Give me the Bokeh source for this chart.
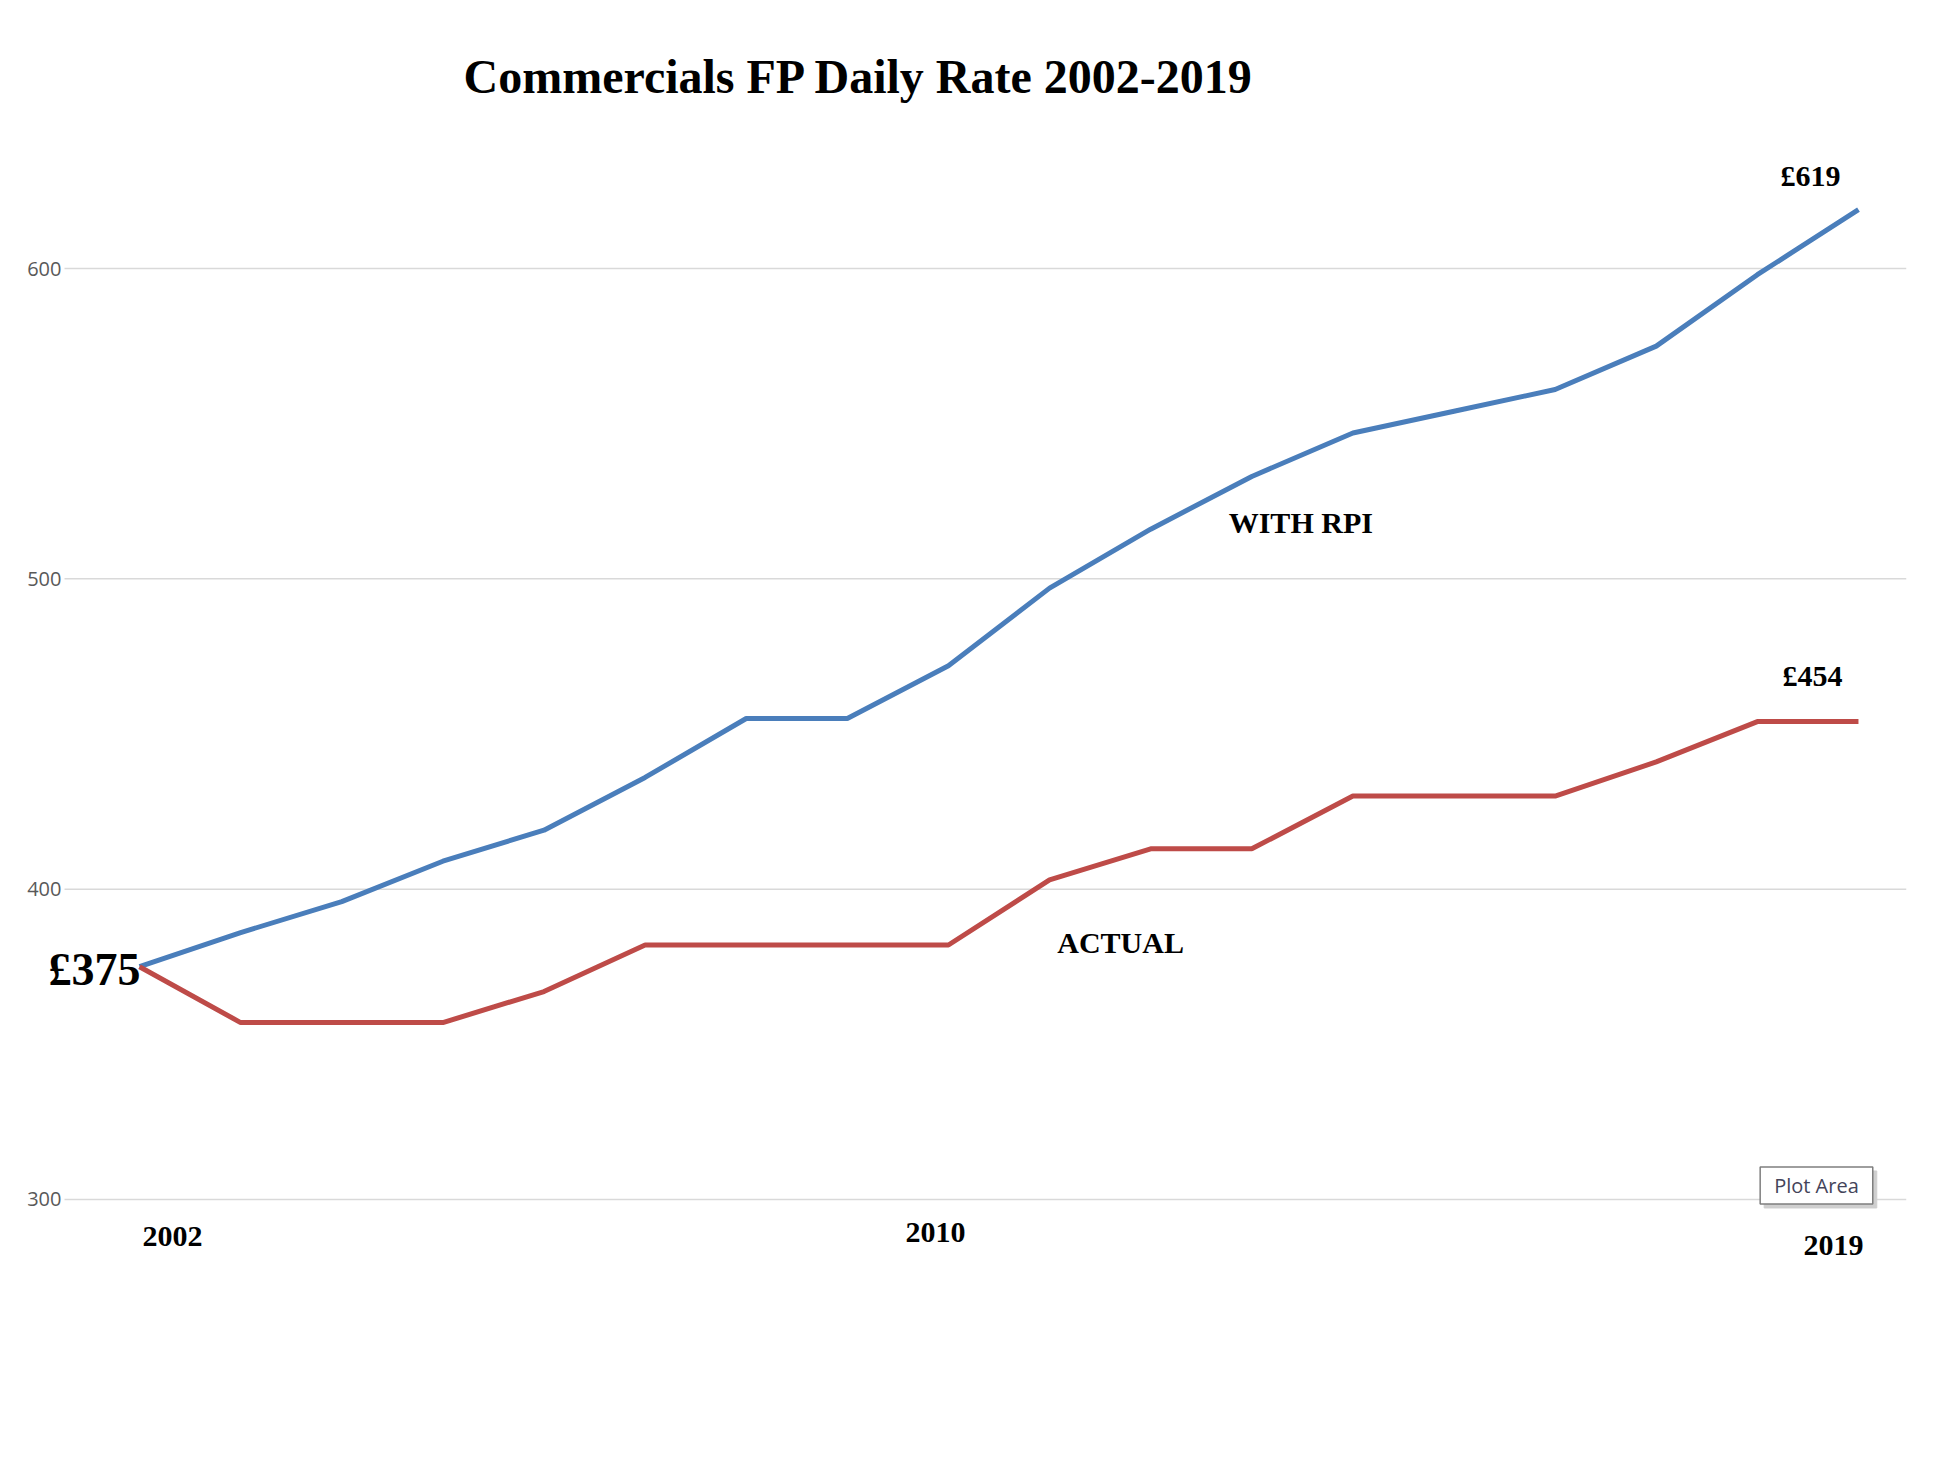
from bokeh.plotting import figure
from bokeh.models import Range1d, Label
from bokeh.embed import file_html
from bokeh.resources import INLINE

# ---- data ----
years = list(range(2002, 2020))
with_rpi = [375, 386, 396, 409, 419, 436, 455, 455, 472, 497, 516, 533, 547, 554, 561, 575, 598, 619]
actual = [375, 357, 357, 357, 367, 382, 382, 382, 382, 403, 413, 413, 430, 430, 430, 441, 454, 454]
y_ticks = [300, 400, 500, 600]
year_labels = ["2002", "2010", "2019"]
series_names = ["WITH RPI", "ACTUAL"]
title_text = "Commercials FP Daily Rate 2002-2019"

BLUE = "#4A7EBB"
RED = "#BE4B48"
SERIF = "Liberation Serif"

X_START, X_END = 2000.625, 2019.475
Y_START, Y_END = 275.5, 641.25
GRID_X0 = 2001.258  # where the value axis / gridlines begin

p = figure(width=1930, height=1446, output_backend="svg", toolbar_location=None,
           x_range=Range1d(X_START, X_END), y_range=Range1d(Y_START, Y_END),
           min_border_left=0, min_border_right=24, min_border_top=140, min_border_bottom=171)

p.title.text = title_text
p.title.align = "left"
p.title.offset = 463
p.title.standoff = 75
p.title.text_font = SERIF
p.title.text_font_style = "bold"
p.title.text_font_size = "48px"
p.title.text_color = "black"

p.outline_line_color = None
p.background_fill_color = "white"
p.border_fill_color = "white"

p.xaxis.visible = False
p.xgrid.visible = False
p.ygrid.visible = False

p.yaxis.ticker = y_ticks
p.yaxis.fixed_location = GRID_X0
p.yaxis.axis_line_color = None
p.yaxis.major_tick_line_color = None
p.yaxis.minor_tick_line_color = None
p.yaxis.major_label_standoff = -3
p.yaxis.major_label_text_font = "Open Sans"
p.yaxis.major_label_text_font_size = "20px"
p.yaxis.major_label_text_color = "#595959"

# horizontal gridlines at the value ticks
p.segment(x0=[GRID_X0] * len(y_ticks), y0=y_ticks, x1=[X_END] * len(y_ticks), y1=y_ticks,
          line_color="#D9D9D9", line_width=1.5)

p.line(years, with_rpi, line_color=BLUE, line_width=5)
p.line(years, actual, line_color=RED, line_width=5)


def lab(x, y, text, size, dx=0, dy=0, align="center", baseline="middle"):
    p.add_layout(Label(x=x, y=y, text=text, x_offset=dx, y_offset=dy,
                       text_font=SERIF, text_font_style="bold", text_font_size=size,
                       text_color="black", text_align=align, text_baseline=baseline))


# value labels
lab(years[0], actual[0], f"£{actual[0]}", "46px", dx=1, dy=-3, align="right")
lab(years[-1], with_rpi[-1], f"£{with_rpi[-1]}", "30px", dx=-48, dy=34)
lab(years[-1], actual[-1], f"£{actual[-1]}", "30px", dx=-46, dy=46)

# series names
lab(years[11], with_rpi[11], series_names[0], "30px", dx=49, dy=-46)
lab(years[9], actual[9], series_names[1], "30px", dx=71, dy=-63)

# year labels
year_offsets = {"2002": (33, -37), "2010": (-13, -33), "2019": (-25, -46)}
for yl in year_labels:
    dx, dy = year_offsets[yl]
    lab(int(yl), y_ticks[0], yl, "30px", dx=dx, dy=dy)

# "Plot Area" tooltip box (with shadow)
box_pad = dict(left=14, right=14, top=5, bottom=5)
p.add_layout(Label(x=years[-1], y=y_ticks[0], text="Plot Area", x_offset=-38, y_offset=10,
                   text_font="Open Sans", text_font_size="20px", text_color="#CFCFCF",
                   text_align="center", text_baseline="middle",
                   background_fill_color="#CFCFCF", border_line_color="#CFCFCF",
                   padding=box_pad))
p.add_layout(Label(x=years[-1], y=y_ticks[0], text="Plot Area", x_offset=-42, y_offset=14,
                   text_font="Open Sans", text_font_size="20px", text_color="#44445A",
                   text_align="center", text_baseline="middle",
                   background_fill_color="white", border_line_color="#7F7F7F",
                   border_line_width=1.5, padding=box_pad))

open("out.html", "w").write(file_html(p, INLINE))
